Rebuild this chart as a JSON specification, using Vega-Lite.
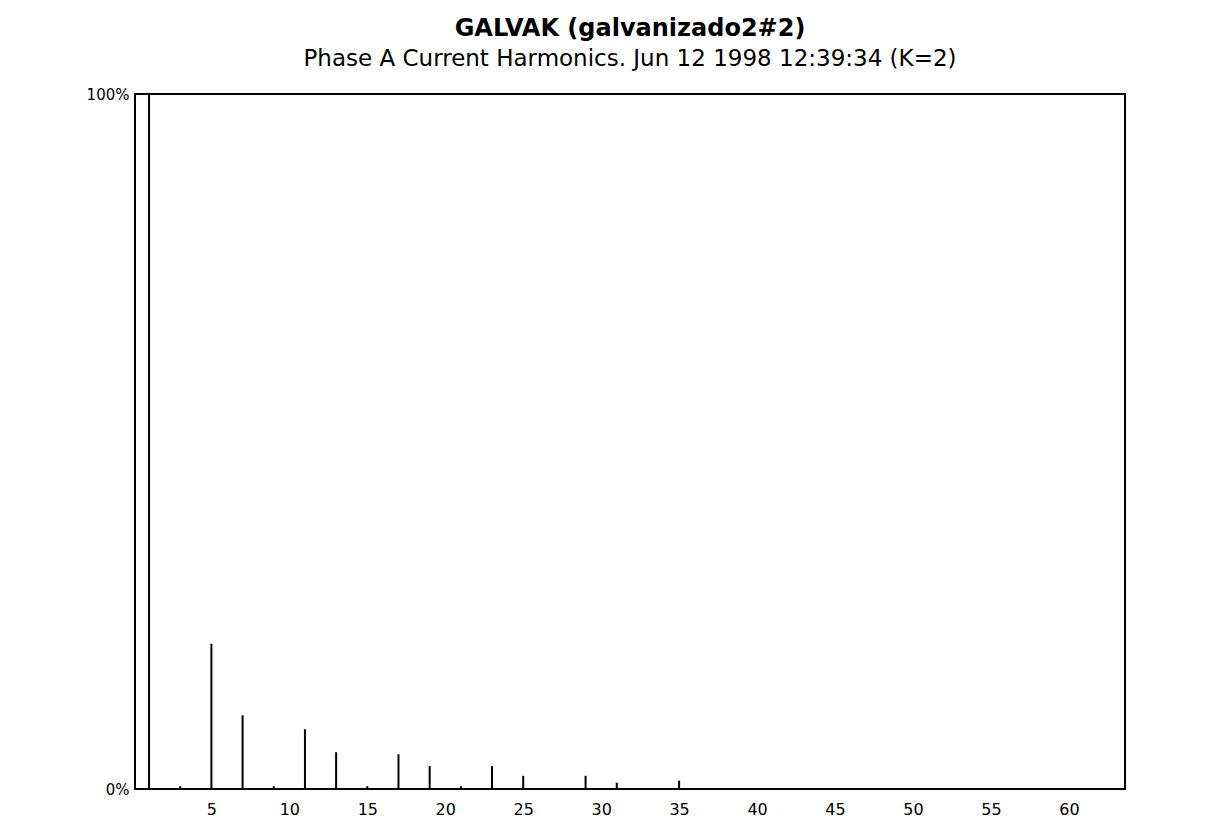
{
  "$schema": "https://vega.github.io/schema/vega-lite/v6.json",
  "width": 990,
  "height": 695,
  "autosize": {"type": "none"},
  "padding": {"left": 135, "top": 94, "right": 82, "bottom": 45},
  "background": "white",
  "title": {
    "text": "GALVAK (galvanizado2#2)",
    "subtitle": "Phase A Current Harmonics. Jun 12 1998 12:39:34 (K=2)",
    "anchor": "middle",
    "font": "DejaVu Sans",
    "fontSize": 24,
    "fontWeight": "bold",
    "color": "black",
    "subtitleFont": "DejaVu Sans",
    "subtitleFontSize": 23,
    "subtitleColor": "black",
    "subtitlePadding": 7,
    "offset": 16
  },
  "data": {
    "values": [
      {"harmonic": 1, "pct": 100},
      {"harmonic": 3, "pct": 0.4},
      {"harmonic": 5, "pct": 20.9},
      {"harmonic": 7, "pct": 10.6},
      {"harmonic": 9, "pct": 0.4},
      {"harmonic": 11, "pct": 8.6},
      {"harmonic": 13, "pct": 5.3},
      {"harmonic": 15, "pct": 0.4},
      {"harmonic": 17, "pct": 5.0},
      {"harmonic": 19, "pct": 3.3},
      {"harmonic": 21, "pct": 0.4},
      {"harmonic": 23, "pct": 3.3},
      {"harmonic": 25, "pct": 1.9},
      {"harmonic": 29, "pct": 1.9},
      {"harmonic": 31, "pct": 0.9},
      {"harmonic": 35, "pct": 1.2}
    ]
  },
  "mark": {"type": "rule", "color": "black", "strokeWidth": 2},
  "encoding": {
    "x": {
      "field": "harmonic",
      "type": "quantitative",
      "scale": {"domain": [0.1, 63.6], "nice": false, "zero": false},
      "axis": {
        "title": null,
        "values": [5, 10, 15, 20, 25, 30, 35, 40, 45, 50, 55, 60],
        "ticks": false,
        "domain": false,
        "grid": false,
        "labelPadding": 12,
        "labelFont": "DejaVu Sans",
        "labelFontSize": 16,
        "labelColor": "black"
      }
    },
    "y": {
      "field": "pct",
      "type": "quantitative",
      "scale": {"domain": [0, 100], "nice": false},
      "axis": {
        "title": null,
        "values": [0, 100],
        "labelExpr": "datum.value + '%'",
        "ticks": false,
        "domain": false,
        "grid": false,
        "labelPadding": 6,
        "labelFont": "DejaVu Sans",
        "labelFontSize": 15,
        "labelColor": "black"
      }
    },
    "y2": {"datum": 0}
  },
  "config": {
    "view": {"stroke": "black", "strokeWidth": 2}
  }
}
